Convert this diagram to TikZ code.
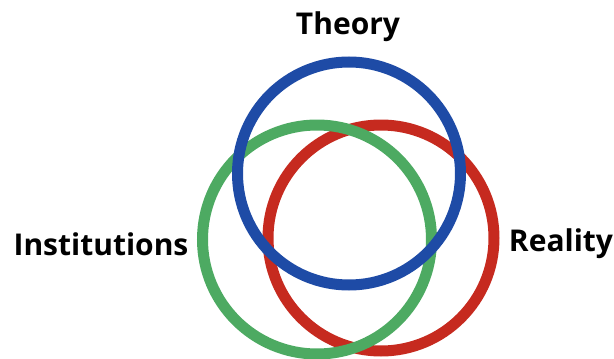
\documentclass[tikz,border=0pt]{standalone}
\usepackage{fontspec}
\setmainfont{Open Sans}
\usetikzlibrary{positioning}
\definecolor{ringblue}{HTML}{1E4BA6}
\definecolor{ringgreen}{HTML}{4DAA62}
\definecolor{ringred}{HTML}{C62A1F}
\tikzset{
  ring/.style={circle,draw=#1,line width=11pt,inner sep=0pt},
  lbl/.style={font=\fontsize{30}{32}\selectfont\bfseries,inner sep=0pt},
}
\begin{document}
\begin{tikzpicture}[x=1pt,y=-1pt]
\useasboundingbox (0,0) rectangle (614,359);
\node[ring=ringred,minimum size=226pt] (reality ring) at (381,238) {};
\node[ring=ringgreen,minimum size=229pt] (inst ring) at (317,239.5) {};
\node[ring=ringblue,minimum size=223pt] (theory ring) at (349,173.5) {};
\node[lbl] (theory) at (348,27) {Theory};
\node[lbl] (inst) at (101,244) {Institutions};
\node[lbl] (reality) at (561,244) {Reality};
\end{tikzpicture}
\end{document}
